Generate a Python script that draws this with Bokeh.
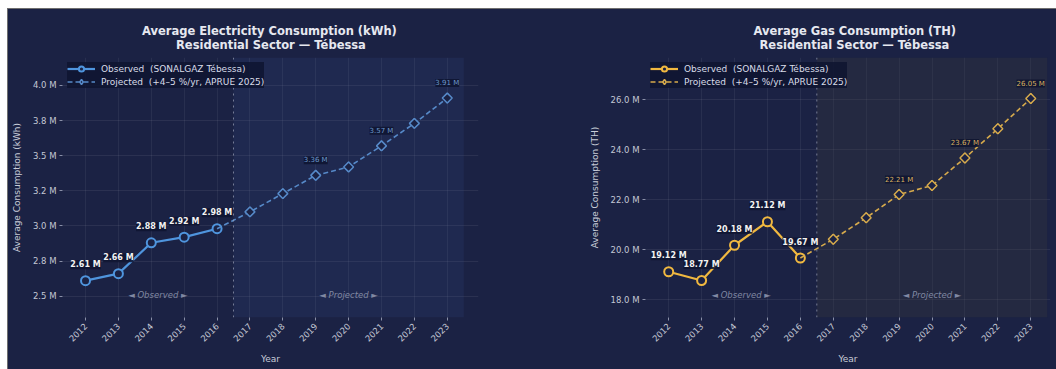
import math
from bokeh.plotting import figure
from bokeh.models import (ColumnDataSource, LabelSet, Label, Span, BoxAnnotation,
                          FixedTicker, Range1d, Legend, LegendItem, Title)
from bokeh.layouts import row
from bokeh.embed import file_html
from bokeh.resources import INLINE
from bokeh.core.properties import value

# ---------------- data ----------------
obs_years = [2012, 2013, 2014, 2015, 2016]
proj_years = [2017, 2018, 2019, 2020, 2021, 2022, 2023]
year_labels = ["2012", "2013", "2014", "2015", "2016", "2017", "2018",
               "2019", "2020", "2021", "2022", "2023"]

elec_obs = [2.61, 2.66, 2.88, 2.92, 2.98]
elec_proj = [3.10, 3.23, 3.36, 3.42, 3.57, 3.73, 3.91]
elec_ticks = [2.5, 2.75, 3.0, 3.25, 3.5, 3.75, 4.0]
elec_tick_labels = ["2.5 M", "2.8 M", "3.0 M", "3.2 M", "3.5 M", "3.8 M", "4.0 M"]

gas_obs = [19.12, 18.77, 20.18, 21.12, 19.67]
gas_proj = [20.42, 21.28, 22.21, 22.57, 23.67, 24.84, 26.05]
gas_ticks = [18.0, 20.0, 22.0, 24.0, 26.0]
gas_tick_labels = ["18.0 M", "20.0 M", "22.0 M", "24.0 M", "26.0 M"]

proj_label_years = [2019, 2021, 2023]

obs_legend = "Observed  (SONALGAZ Tébessa)"
proj_legend = "Projected  (+4–5 %/yr, APRUE 2025)"

BG = "#1b2244"
FONT = "DejaVu Sans"


def make_panel(title1, title2, ylabel, obs, proj, ticks, tick_labels,
               xr, yr, c_obs, c_proj, c_plabel, shade_color, shade_alpha,
               width, mb_left, mb_right, t1_off, t2_off, section_y):
    p = figure(width=width, height=360, x_range=Range1d(*xr), y_range=Range1d(*yr),
               output_backend="svg", toolbar_location=None,
               min_border_left=mb_left, min_border_right=mb_right,
               min_border_top=48, min_border_bottom=52,
               background_fill_color=None, border_fill_color=None)
    p.outline_line_color = None

    # titles: spacer (closest to frame), then line 2, then line 1
    p.add_layout(Title(text=" ", text_font_size="2px", standoff=2.0), "above")
    p.add_layout(Title(text=title2, align="left", offset=t2_off, text_font=FONT,
                       text_font_size="11.5px", text_font_style="bold",
                       text_color="#e6e8f0", standoff=0), "above")
    p.add_layout(Title(text=title1, align="left", offset=t1_off, text_font=FONT,
                       text_font_size="11.5px", text_font_style="bold",
                       text_color="#e6e8f0", standoff=-4), "above")

    # shaded projected region + divider
    p.add_layout(BoxAnnotation(left=2016.5, right=2023.5, fill_color=shade_color,
                               fill_alpha=shade_alpha, line_color=None, level="underlay"))
    p.add_layout(Span(location=2016.5, dimension="height", line_color="#9aa0b8",
                      line_dash="dotted", line_width=1, line_alpha=0.7))

    all_years = obs_years + proj_years
    # axes
    p.xaxis.ticker = FixedTicker(ticks=all_years)
    p.xaxis.major_label_overrides = {y: s for y, s in zip(all_years, year_labels)}
    p.xaxis.major_label_orientation = math.pi / 4
    p.yaxis.ticker = FixedTicker(ticks=ticks)
    p.yaxis.major_label_overrides = {t: s for t, s in zip(ticks, tick_labels)}
    for ax in (p.xaxis, p.yaxis):
        ax.axis_line_color = None
        ax.major_tick_in = 0
        ax.major_tick_out = 3
        ax.minor_tick_line_color = None
        ax.major_tick_line_color = "#8a90a8"
        ax.major_label_text_font = FONT
        ax.major_label_text_font_size = "8.5px"
        ax.major_label_text_color = "#c4c8d4"
        ax.axis_label_text_font = FONT
        ax.axis_label_text_font_size = "9px"
        ax.axis_label_text_font_style = "normal"
        ax.axis_label_text_color = "#c8ccd8"
    p.xaxis.axis_label = "Year"
    p.yaxis.axis_label = ylabel
    p.xaxis.major_label_standoff = 4
    p.xaxis.axis_label_standoff = 6
    p.yaxis.major_label_standoff = 3
    p.yaxis.axis_label_standoff = 8

    p.xgrid.ticker = FixedTicker(ticks=all_years)
    p.ygrid.ticker = FixedTicker(ticks=ticks)
    p.xgrid.grid_line_color = "#ffffff"
    p.xgrid.grid_line_alpha = 0.06
    p.ygrid.grid_line_color = "#ffffff"
    p.ygrid.grid_line_alpha = 0.07

    # series
    l_obs = p.line(obs_years, obs, line_color=c_obs, line_width=2.2)
    s_obs = p.scatter(obs_years, obs, marker="circle", size=9, fill_color=BG,
                      line_color=c_obs, line_width=2)
    l_proj = p.line([obs_years[-1]] + proj_years, [obs[-1]] + proj, line_color=c_proj,
                    line_width=1.6, line_dash="5 3")
    # diamond markers (used by the legend), covered by the rotated squares drawn on top
    s_proj_leg = p.scatter(proj_years, proj, marker="diamond", size=9.5, fill_color=BG,
                           line_color=c_proj, line_width=1.5)
    p.scatter(proj_years, proj, marker="square", angle=math.pi / 4, size=7,
              fill_color=BG, line_color=c_proj, line_width=1.5)

    # data labels
    src_o = ColumnDataSource(dict(x=obs_years, y=obs, t=[f"{v:.2f} M" for v in obs]))
    p.add_layout(LabelSet(source=src_o, x="x", y="y", text="t", y_offset=16,
                          text_align="center", text_baseline="middle",
                          text_font=value(FONT), text_font_size="8px",
                          text_font_style="bold", text_color="#f2f2f2",
                          background_fill_color="#0e1430", background_fill_alpha=0.85))
    py = [y for y in proj_years if y in proj_label_years]
    pv = [v for y, v in zip(proj_years, proj) if y in proj_label_years]
    src_p = ColumnDataSource(dict(x=py, y=pv, t=[f"{v:.2f} M" for v in pv]))
    p.add_layout(LabelSet(source=src_p, x="x", y="y", text="t", y_offset=15,
                          text_align="center", text_baseline="middle",
                          text_font=value(FONT), text_font_size="7px",
                          text_color=c_plabel, background_fill_color="#0e1430",
                          background_fill_alpha=0.85))

    # section labels
    p.add_layout(Label(x=2014.2, y=section_y, text="◄ Observed ►", text_align="center",
                       text_baseline="middle", text_font=FONT, text_font_size="8.5px",
                       text_font_style="italic", text_color="#8088a2"))
    p.add_layout(Label(x=2020.0, y=section_y, text="◄ Projected ►", text_align="center",
                       text_baseline="middle", text_font=FONT, text_font_size="8.5px",
                       text_font_style="italic", text_color="#8088a2"))

    legend = Legend(items=[LegendItem(label=obs_legend, renderers=[l_obs, s_obs]),
                           LegendItem(label=proj_legend, renderers=[l_proj, s_proj_leg])],
                    location="top_left", margin=5, padding=1, spacing=0,
                    glyph_width=28, glyph_height=13, label_height=12, label_standoff=6,
                    label_text_font=FONT, label_text_font_size="9px",
                    label_text_color="#d8dce8", background_fill_color="#0e1430",
                    background_fill_alpha=0.85, border_line_color=None)
    p.add_layout(legend)
    return p


p1 = make_panel("Average Electricity Consumption (kWh)", "Residential Sector — Tébessa",
                "Average Consumption (kWh)", elec_obs, elec_proj, elec_ticks, elec_tick_labels,
                (2011.30, 2023.95), (2.348, 4.199), "#4f95de", "#5689c8", "#6c98cc",
                "#3a5a9a", 0.15, 520, 54, 50, 79.5, 113.5, 2.509)
p2 = make_panel("Average Gas Consumption (TH)", "Residential Sector — Tébessa",
                "Average Consumption (TH)", gas_obs, gas_proj, gas_ticks, gas_tick_labels,
                (2011.295, 2023.6), (17.29, 27.69), "#f0b840", "#d6aa4c", "#d8b060",
                "#3a3a3a", 0.3, 528, 117, 6, 108.0, 114.0, 18.195)

layout = row(p1, p2, margin=(8, 0, 0, 7),
             styles={"background-color": BG, "border-left": "1px solid #6e6e6e",
                     "border-top": "1px solid #6e6e6e"})

open("out.html", "w").write(file_html(layout, INLINE))
